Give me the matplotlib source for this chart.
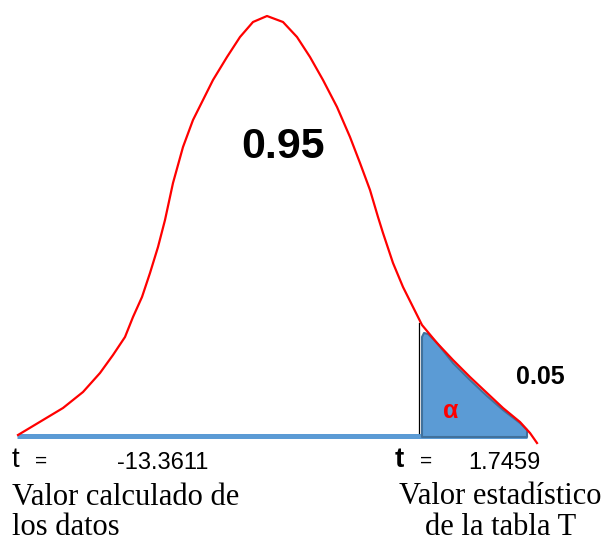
# t-test diagram: bell curve with the right-tail rejection area shaded
import numpy as np
import matplotlib
matplotlib.use("Agg")
import matplotlib.pyplot as plt

# curve (canvas units, y grows downward)
curve_x = [18, 43, 63, 83, 100, 113, 125, 133, 142, 150, 158, 165, 173, 183, 193, 203, 213,
           227, 240, 253, 267, 283, 297, 310, 323, 337, 350, 360, 370, 378, 383, 393, 403,
           413, 422, 437, 453, 470, 487, 503, 520, 530, 537]
curve_y = [435, 420, 408, 392, 373, 355, 337, 317, 297, 273, 247, 220, 183, 147, 120, 100, 80,
           57, 37, 22, 16, 22, 37, 57, 80, 107, 137, 163, 190, 217, 233, 263, 287,
           307, 325, 343, 360, 377, 393, 408, 422, 433, 443]

# shaded tail (alpha region)
tail_x = [422, 422, 424, 428, 437, 453, 470, 487, 503, 520, 527, 527]
tail_y = [437, 337, 333, 334, 343, 363, 380, 396, 410, 423, 430, 437]

# baseline and critical value marker
base_x = [17, 527]
base_y = [436, 436]
crit_x = [419, 419]
crit_y = [323, 433]

area_main = "0.95"
area_tail = "0.05"
t_calc = "-13.3611"
t_table = "1.7459"

fig = plt.figure(figsize=(6.11, 5.43), dpi=100)
ax = fig.add_axes([0, 0, 1, 1])
ax.set_xlim(0, 611)
ax.set_ylim(543, 0)
ax.axis("off")

sans = "Liberation Sans"
serif = "Liberation Serif"

ax.plot(base_x, base_y, color="#5B9BD5", lw=3.6, solid_capstyle="butt", zorder=1)
ax.fill(tail_x, tail_y, facecolor="#5B9BD5", edgecolor="#41719C", lw=1.5,
        joinstyle="round", zorder=2)
ax.plot(crit_x, crit_y, color="black", lw=0.9, zorder=2)
ax.plot(curve_x, curve_y, color="#FF0000", lw=1.6, solid_joinstyle="round", zorder=3)

ax.text(283, 147, area_main, family=sans, weight="bold", fontsize=31, ha="center", va="center")
ax.text(540, 377, area_tail, family=sans, weight="bold", fontsize=18, ha="center", va="center")
ax.text(451, 411, "α", family=sans, weight="bold", fontsize=18, color="#FF0000",
        ha="center", va="center")

# left labels
ax.text(12, 467, "t", family=sans, fontsize=20, va="baseline")
ax.text(35, 467, "=", family=sans, fontsize=15, va="baseline")
ax.text(117, 469, t_calc, family=sans, fontsize=17, va="baseline")
ax.text(12, 505, "Valor calculado de", family=serif, fontsize=22, va="baseline")
ax.text(12, 535, "los datos", family=serif, fontsize=22, va="baseline")

# right labels
ax.text(395, 467, "t", family=sans, weight="bold", fontsize=20, va="baseline")
ax.text(420, 467, "=", family=sans, fontsize=15, va="baseline")
ax.text(468, 469, t_table, family=sans, fontsize=17, va="baseline")
ax.text(500, 504, "Valor estadístico", family=serif, fontsize=22, ha="center", va="baseline")
ax.text(501, 535, "de la tabla T", family=serif, fontsize=22, ha="center", va="baseline")

fig.savefig("out.png", dpi=100)
